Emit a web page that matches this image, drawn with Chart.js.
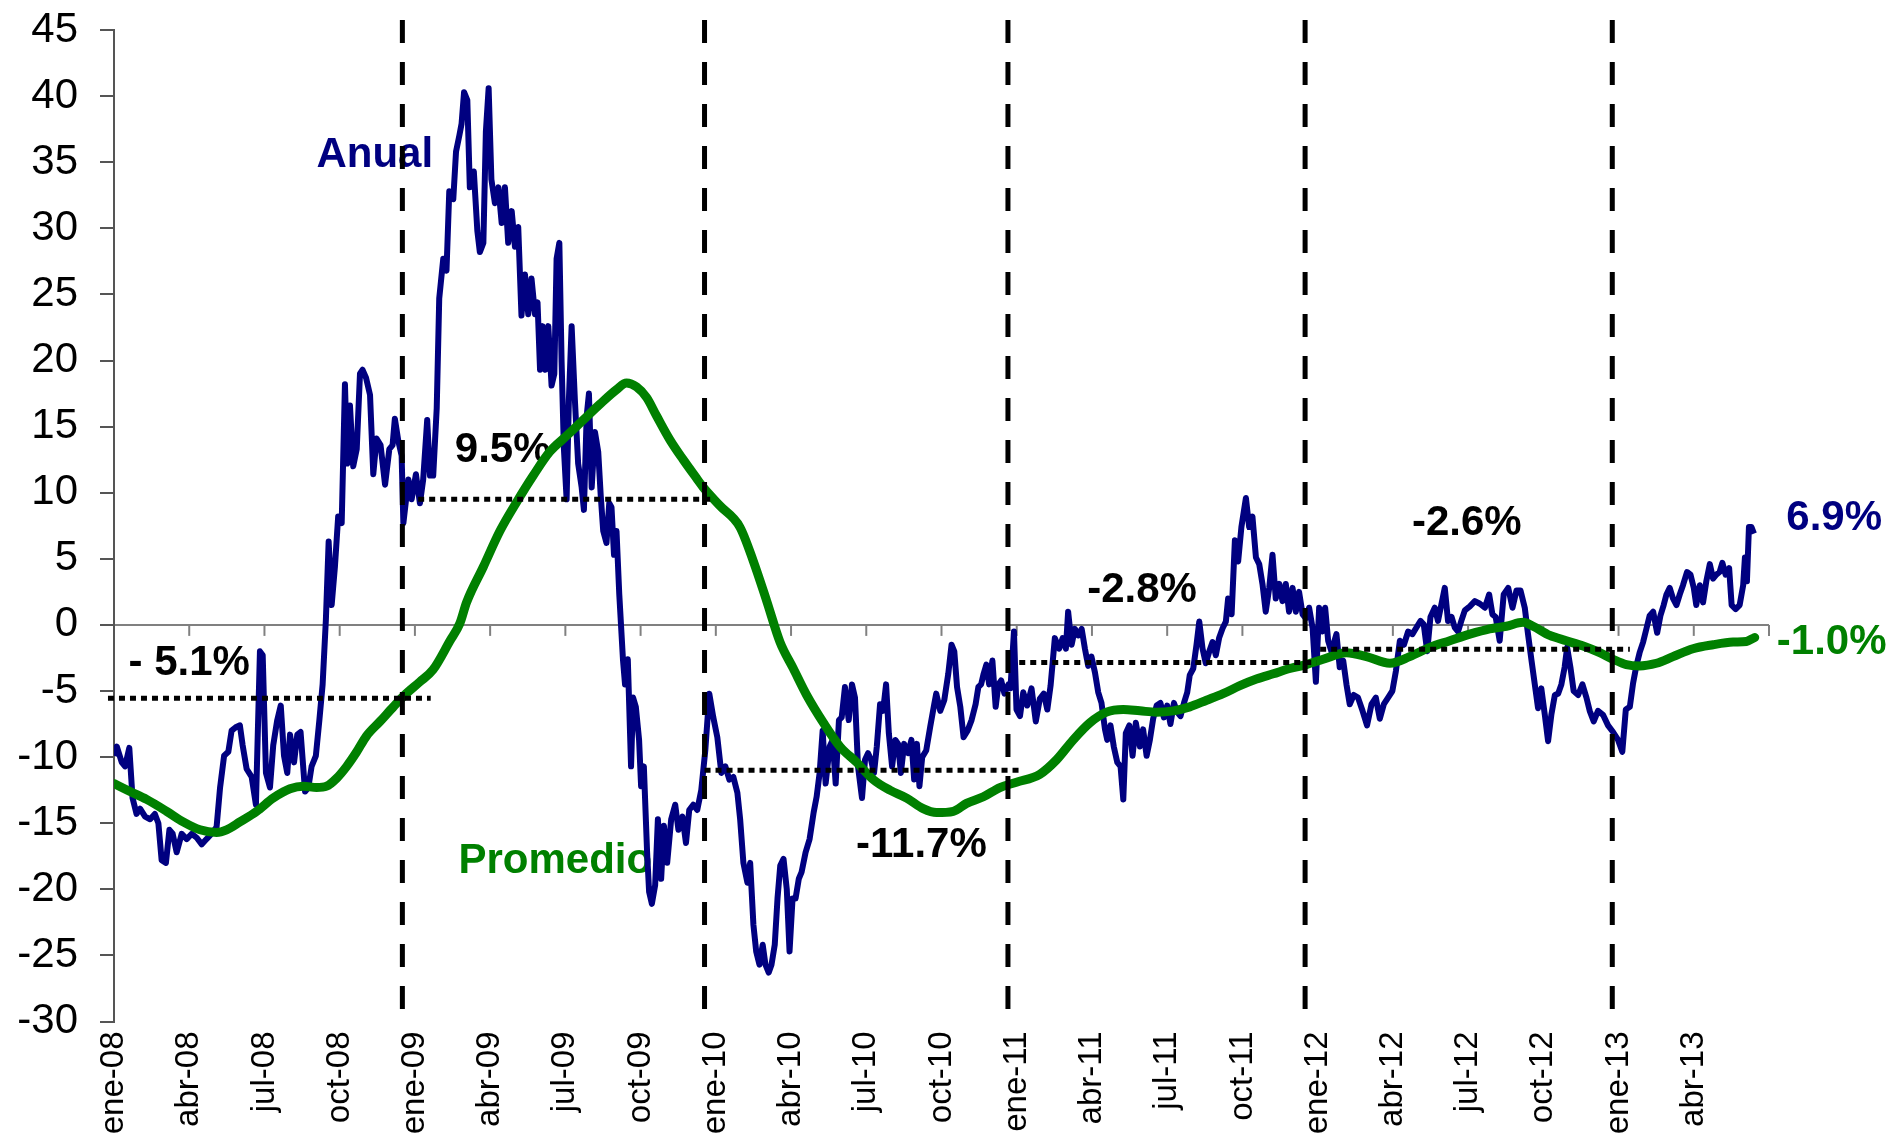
<!DOCTYPE html>
<html>
<head>
<meta charset="utf-8">
<script src="https://cdn.jsdelivr.net/npm/chart.js@4.4.1/dist/chart.umd.min.js"></script>
<style>
  html, body { margin: 0; padding: 0; background: #fff; }
  #wrap { width: 1889px; height: 1142px; }
</style>
</head>
<body>
<div id="wrap"><canvas id="chart" width="1889" height="1142"></canvas></div>
<script>
// x values are months counted from ene-08 (0 = ene-08, 3 = abr-08, ...)
const xTickLabels = ['ene-08', 'abr-08', 'jul-08', 'oct-08', 'ene-09', 'abr-09', 'jul-09', 'oct-09',
  'ene-10', 'abr-10', 'jul-10', 'oct-10', 'ene-11', 'abr-11', 'jul-11', 'oct-11',
  'ene-12', 'abr-12', 'jul-12', 'oct-12', 'ene-13', 'abr-13'];

// "Anual" series
const anualMonths = [
  0, 0.11, 0.31, 0.44, 0.61, 0.74, 0.9, 1.04, 1.24, 1.44, 1.63, 1.77, 1.9, 2.07, 2.21, 2.34, 2.5, 2.7, 2.9, 3.1,
  3.3, 3.5, 3.69, 3.89, 4.09, 4.23, 4.39, 4.56, 4.69, 4.89, 5.02, 5.13, 5.29, 5.49, 5.66, 5.82, 5.93, 6.06, 6.22, 6.35,
  6.51, 6.65, 6.78, 6.91, 7.02, 7.18, 7.31, 7.44, 7.62, 7.75, 7.88, 8.05, 8.19, 8.32, 8.45, 8.56, 8.68, 8.81, 8.94, 9.08,
  9.21, 9.3, 9.41, 9.54, 9.68, 9.81, 9.91, 10.05, 10.21, 10.34, 10.47, 10.63, 10.81, 10.98, 11.11, 11.2, 11.34, 11.47,
  11.54, 11.74, 11.87, 12.04, 12.2, 12.33, 12.49, 12.6, 12.73, 12.87, 12.97, 13.13, 13.26, 13.37, 13.53, 13.64, 13.77, 13.86, 13.96, 14.09,
  14.19, 14.35, 14.49, 14.59, 14.73, 14.83, 14.94, 15.05, 15.19, 15.33, 15.46, 15.59, 15.72, 15.86, 15.99, 16.12, 16.25, 16.39, 16.52, 16.65,
  16.79, 16.89, 16.99, 17.09, 17.2, 17.32, 17.45, 17.56, 17.65, 17.76, 17.85, 17.94, 18.05, 18.14, 18.25, 18.38, 18.51, 18.65, 18.74, 18.85,
  18.94, 19.05, 19.18, 19.31, 19.41, 19.51, 19.64, 19.75, 19.84, 19.94, 20.04, 20.15,
  20.3, 20.38, 20.49, 20.62, 20.7, 20.81, 20.94, 21.02, 21.13, 21.26, 21.34, 21.45, 21.58, 21.69, 21.82, 21.93, 22.06, 22.22, 22.38, 22.51,
  22.67, 22.81, 22.94, 23.1, 23.26, 23.42, 23.58, 23.74, 23.9, 24.06, 24.22, 24.38, 24.54, 24.7, 24.86, 24.97, 25.1, 25.26, 25.37, 25.5,
  25.61, 25.74, 25.87, 25.98, 26.11, 26.22, 26.35, 26.46, 26.57, 26.7, 26.83, 26.94, 27.06, 27.18, 27.31, 27.42, 27.58, 27.74, 27.9, 28.02,
  28.14, 28.26, 28.38, 28.54, 28.66, 28.78, 28.91, 29.02, 29.15, 29.3, 29.43, 29.55, 29.67, 29.83, 29.95, 30.07, 30.19, 30.31, 30.42, 30.55,
  30.67, 30.79, 30.9, 31.03, 31.16, 31.27, 31.38, 31.51, 31.67, 31.8, 31.91, 32.02, 32.12, 32.23, 32.39, 32.55, 32.71, 32.79, 32.95, 33.11,
  33.27, 33.4, 33.51, 33.62, 33.75, 33.88, 34.04, 34.2, 34.36, 34.47, 34.58, 34.68, 34.79, 34.9, 35.03, 35.16, 35.27, 35.38, 35.51, 35.67,
  35.75, 35.89, 35.99, 36.13, 36.26, 36.42, 36.59, 36.76, 36.92, 37.08, 37.22, 37.35, 37.52, 37.69, 37.83, 37.96, 38.05, 38.19, 38.32, 38.45,
  38.59, 38.72, 38.85, 38.98, 39.12, 39.25, 39.38, 39.52, 39.61, 39.74, 39.87, 40.01, 40.14, 40.25, 40.35, 40.49, 40.62, 40.75, 40.91, 41.04,
  41.18, 41.31, 41.44, 41.58, 41.73, 41.87, 42, 42.13, 42.27, 42.4, 42.53, 42.67, 42.8, 42.9, 43.04, 43.17, 43.28, 43.41, 43.54, 43.68,
  43.81, 43.94, 44.07, 44.21, 44.34, 44.43, 44.57, 44.7, 44.83, 44.96, 45.14, 45.27, 45.4, 45.54, 45.67, 45.8, 45.93, 46.07, 46.2, 46.33,
  46.47, 46.6, 46.73, 46.86, 47, 47.13, 47.26, 47.4, 47.53, 47.66, 47.8, 47.93,
  48.06, 48.19, 48.3, 48.42, 48.55, 48.75, 48.88, 49.02, 49.15, 49.28, 49.44, 49.61, 49.79, 49.97, 50.15, 50.32, 50.48, 50.64, 50.81, 50.98,
  51.12, 51.28, 51.44, 51.61, 51.78, 51.94, 52.1, 52.23, 52.37, 52.5, 52.67, 52.8, 52.94, 53.07, 53.2, 53.34, 53.47, 53.6, 53.73, 53.87,
  54.07, 54.27, 54.47, 54.67, 54.84, 54.97, 55.1, 55.26, 55.42, 55.6, 55.77, 55.93, 56.09, 56.26, 56.39, 56.53, 56.66, 56.79, 56.92, 57.06,
  57.19, 57.32, 57.46, 57.59, 57.72, 57.85, 57.95, 58.08, 58.21, 58.39, 58.56, 58.72, 58.85, 59.01, 59.18, 59.38, 59.58, 59.78,
  59.98, 60.15, 60.29, 60.45, 60.58, 60.71, 60.84, 60.98, 61.11, 61.24, 61.38, 61.54, 61.67, 61.8, 61.91, 62.04, 62.17, 62.31, 62.44, 62.57,
  62.73, 62.87, 63, 63.1, 63.24, 63.37, 63.5, 63.64, 63.77, 63.9, 64.03, 64.14, 64.27, 64.41, 64.51, 64.67, 64.83, 64.97, 65.04, 65.12,
  65.2, 65.3, 65.4
];
const anualValues = [
  -9.9, -9.2, -10.4, -10.7, -9.3, -13.1, -14.3, -13.9, -14.5, -14.7, -14.3, -15, -17.8, -18, -15.5, -15.8, -17.2, -15.8, -16.2, -15.8,
  -16.1, -16.6, -16.2, -15.8, -15.3, -12.3, -9.9, -9.6, -8, -7.7, -7.6, -9.1, -10.9, -11.5, -13.6, -2, -2.3, -11.2, -12.3, -9.1,
  -7.2, -6.1, -9.9, -11.2, -8.3, -10.4, -8.3, -8.1, -12.6, -12.3, -10.7, -9.9, -7.2, -4.5, 0.4, 6.3, 1.5, 4.4, 8.2, 7.7,
  18.2, 12.2, 16.6, 12, 13.3, 19, 19.3, 18.7, 17.4, 11.4, 14.1, 13.6, 10.6, 13.3, 13.6, 15.6, 13.9, 12.8,
  7.7, 11, 9.5, 11.4, 9.2, 11, 15.5, 11.3, 11.3, 16.4, 24.7, 27.7, 26.8, 32.8, 32.2, 35.8, 37, 37.9, 40.3, 39.7,
  33.1, 34.3, 29.8, 28.2, 28.9, 37.3, 40.6, 33.7, 31.9, 33.1, 30.4, 33.1, 28.9, 31.3, 28.6, 30.1, 23.4, 26.5, 23.5, 26.2,
  23.5, 24.4, 19.3, 22.6, 19.3, 22.6, 18.1, 19, 27.7, 28.9, 19.9, 13.4, 9.5, 17, 22.6, 17, 12.2, 10.4, 8.7, 15.8,
  17.5, 10.4, 14.6, 13.1, 9.8, 7.1, 6.2, 9.2, 8.9, 5.3, 7.1, 2.3,
  -2.7, -4.5, -2.6, -10.7, -5.5, -6.2, -8.7, -12.2, -10.7, -17.2, -20.2, -21.1, -19.7, -14.7, -19.2, -15.2, -18, -14.7, -13.6, -15.5,
  -14.5, -16.5, -14, -13.6, -14, -12.5, -9.5, -5.2, -7, -8.5, -11.2, -10.7, -11.7, -11.5, -12.7, -14.7, -18, -19.5, -18, -22.7,
  -24.7, -25.7, -24.2, -25.7, -26.3, -25.7, -24.2, -20.7, -18.2, -17.7, -20, -24.7, -20.7, -20.7, -19.2, -18.7, -17.2, -16.2, -14.2, -13,
  -11.2, -8, -12, -9.2, -8.7, -12, -7.2, -7, -4.7, -7.2, -4.5, -5.5, -10.7, -13.1, -10.2, -9.7, -10.2, -11.2, -9.2, -6,
  -6.5, -4.5, -8.2, -10.7, -8.7, -9, -11.2, -9, -9.7, -8.7, -11.7, -9, -12.2, -10, -9.5, -7.7, -6, -5.2, -6.5, -5.7,
  -3.7, -1.5, -2, -4.7, -6.2, -8.5, -8, -7.2, -6, -4.7, -4.5, -3.7, -3, -4.5, -2.7, -6.2, -4.5, -4.2, -5.2, -4.5,
  -4.8, -0.5, -6.4, -6.9, -5.1, -6.1, -4.8, -7.3, -5.6, -5.2, -6.4, -4.6, -1, -1.8, -1, -1.8, 1, -1.5, -0.3, -0.8,
  -0.3, -1.8, -3.1, -2.4, -3.6, -5.1, -5.9, -7.9, -8.7, -7.6, -9.2, -10.4, -10.7, -13.2, -8.2, -7.6, -9.9, -7.4, -9.2, -7.9,
  -9.9, -8.7, -7.1, -6.1, -5.9, -7, -6.1, -7.5, -5.9, -6.6, -6.9, -5.9, -5.1, -3.8, -3.3, -1.5, 0.25, -1.8, -2.9, -2,
  -1.3, -2.3, -1, -0.25, 0.25, 2, 0.8, 6.4, 4.8, 7.4, 9.6, 7.4, 8.2, 5.1, 4.6, 3.1, 1, 2.8, 5.3, 2,
  3.1, 1.8, 3.1, 1, 2.8, 1, 2.5, 0.8, 0.5, 1.3, -0.25, -4.3,
  1.3, -0.5, 1.3, -1.2, -2, -0.7, -3.2, -2.7, -4.5, -6, -5.3, -5.5, -6.5, -7.6, -6, -5.5, -7.1, -6, -5.5, -5,
  -3.5, -1.2, -1.5, -0.5, -0.7, -0.2, 0.3, 0.05, -2, 0.6, 1.3, 0.3, 1.6, 2.8, 0.3, 0.6, -0.2, -0.5, 0.3, 1.1,
  1.4, 1.8, 1.6, 1.3, 2.3, 0.8, 0.6, -1.2, 2.3, 2.8, 1.3, 2.6, 2.6, 1.3, -0.7, -2.7, -4.5, -6.3, -4.8, -6.8,
  -8.8, -6.8, -5.3, -5.2, -4.5, -3.2, -1.7, -3.2, -5, -5.3, -4.5, -5.5, -6.5, -7.3, -6.5, -6.8, -7.6, -8.1,
  -8.7, -9.6, -6.4, -6.2, -4.4, -3.1, -2.1, -1.3, -0.3, 0.7, 1, -0.6, 0.7, 1.5, 2.3, 2.8, 2, 1.5, 2.3, 3,
  4, 3.8, 2.8, 1.5, 3, 1.7, 3.3, 4.6, 3.5, 3.8, 4, 4.7, 3.8, 4.3, 1.5, 1.2, 1.5, 3, 5.1, 3.3,
  7.4, 7.4, 6.9
];

// "Promedio" series
const promedioMonths = [
  0, 0.64, 1.3, 2.1, 2.76, 3.43, 4.09, 4.49, 5.02, 5.69, 6.35, 7.02, 7.55, 8.08, 8.48, 8.88, 9.28, 9.68, 10.07, 10.61,
  11.14, 11.54, 12.2, 12.72, 13.4, 13.79, 14.06, 14.73, 15.39, 16.06, 16.72, 17.38, 18.05, 18.71, 19.38, 20.04, 20.44, 20.84, 21.24, 21.64,
  22.17, 22.7, 23.23, 23.5, 24.17, 24.96, 25.5, 26.03, 26.56, 27.09, 27.62, 28.29, 28.95, 29.62, 30.28, 30.94, 31.61, 32.27, 32.8, 33.47,
  34, 34.67, 35.33, 35.99, 36.92, 37.59, 38.25, 38.92, 39.58, 40.25, 40.91, 41.58, 42.24, 42.9, 43.57, 44.23, 44.9, 45.56, 46.23, 46.89,
  47.55, 48.22, 49.15, 49.95, 50.88, 51.67, 52.47, 53.27, 54.07, 54.86, 55.53, 56.19, 56.59, 57.26, 57.92, 58.59, 59.25, 59.78, 60.31, 60.84,
  61.51, 62.17, 62.97, 63.77, 64.57, 65.1, 65.43
];
const promedioValues = [
  -12, -12.6, -13.2, -14.1, -14.9, -15.5, -15.7, -15.5, -14.9, -14.1, -13.1, -12.4, -12.2, -12.3, -12.2, -11.6, -10.7, -9.6, -8.4, -7.3,
  -6.2, -5.4, -4.3, -3.4, -1.2, 0.1, 1.7, 4.4, 7.1, 9.3, 11.3, 13.1, 14.3, 15.5, 16.7, 17.8, 18.3, 18, 17.2, 15.8,
  14, 12.5, 11.1, 10.4, 9, 7.4, 4.8, 1.8, -1.3, -3.3, -5.3, -7.4, -9.2, -10.4, -11.7, -12.5, -13.1, -13.9, -14.2, -14.1,
  -13.5, -13, -12.3, -11.9, -11.3, -10.2, -8.7, -7.4, -6.6, -6.4, -6.5, -6.6, -6.5, -6.2, -5.7, -5.2, -4.6, -4.1, -3.7, -3.3,
  -3, -2.6, -2.1, -2.4, -2.9, -2.4, -1.7, -1.2, -0.7, -0.3, -0.1, 0.2, -0.1, -0.8, -1.2, -1.6, -2.1, -2.6, -3, -3.1,
  -2.9, -2.4, -1.8, -1.5, -1.3, -1.25, -0.95
];

// year breaks (dashed verticals) and yearly average levels (dotted horizontals)
const yearBreaks = [11.5, 23.55, 35.65, 47.5, 59.75];
const avgFrom = [-0.24, 12.13, 23.55, 36.1, 48.1];
const avgTo = [12.63, 23.95, 36.1, 47.95, 60.45];
const avgLevels = [-5.55, 9.5, -11.0, -2.85, -1.85];

const NAVY = '#000080';
const GREEN = '#008000';
const FONT = '"Liberation Sans", Arial, sans-serif';

// text notes placed in data units
const notes = [
  { text: 'Anual', x: 10.4, y: 35.5, color: NAVY },
  { text: 'Promedio', x: 17.6, y: -17.9, color: GREEN },
  { text: '- 5.1%', x: 3.0, y: -2.95, color: '#000' },
  { text: '9.5%', x: 15.5, y: 13.2, color: '#000' },
  { text: '-11.7%', x: 32.2, y: -16.7, color: '#000' },
  { text: '-2.8%', x: 41.0, y: 2.6, color: '#000' },
  { text: '-2.6%', x: 53.95, y: 7.7, color: '#000' },
  { text: '6.9%', x: 68.6, y: 8.06, color: NAVY },
  { text: '-1.0%', x: 68.5, y: -1.35, color: GREEN }
];

const xMax = 66;

const overlay = {
  id: 'overlay',
  beforeDatasetsDraw(chart) {
    const { ctx, scales: { x, y } } = chart;
    ctx.save();
    // small tick marks hanging from the zero line
    const y0 = y.getPixelForValue(0);
    ctx.strokeStyle = '#808080';
    ctx.lineWidth = 2;
    for (let m = 3; m <= xMax; m += 3) {
      const px = x.getPixelForValue(m);
      ctx.beginPath();
      ctx.moveTo(px, y0);
      ctx.lineTo(px, y0 + 11);
      ctx.stroke();
    }
    ctx.font = 'bold 42px ' + FONT;
    ctx.textAlign = 'center';
    ctx.textBaseline = 'middle';
    notes.forEach(n => {
      ctx.fillStyle = n.color;
      ctx.fillText(n.text, x.getPixelForValue(n.x), y.getPixelForValue(n.y));
    });
    ctx.restore();
  },
  afterDatasetsDraw(chart) {
    const { ctx, chartArea, scales: { x, y } } = chart;
    ctx.save();
    ctx.strokeStyle = '#000';
    // dotted averages
    ctx.lineWidth = 5;
    ctx.setLineDash([6, 5]);
    avgLevels.forEach((v, i) => {
      const py = y.getPixelForValue(v);
      ctx.beginPath();
      ctx.moveTo(x.getPixelForValue(avgFrom[i]), py);
      ctx.lineTo(x.getPixelForValue(avgTo[i]), py);
      ctx.stroke();
    });
    // dashed year breaks
    ctx.lineWidth = 5;
    ctx.setLineDash([23, 19]);
    yearBreaks.forEach(m => {
      const px = x.getPixelForValue(m);
      ctx.beginPath();
      ctx.moveTo(px, chartArea.top - 10);
      ctx.lineTo(px, chartArea.bottom + 2);
      ctx.stroke();
    });
    ctx.restore();
  }
};

new Chart(document.getElementById('chart'), {
  type: 'line',
  data: {
    datasets: [
      {
        label: 'Anual',
        data: anualMonths.map((m, i) => ({ x: m, y: anualValues[i] })),
        borderColor: NAVY,
        borderWidth: 6,
        pointRadius: 0,
        tension: 0,
        borderJoinStyle: 'round',
        order: 2
      },
      {
        label: 'Promedio',
        data: promedioMonths.map((m, i) => ({ x: m, y: promedioValues[i] })),
        borderColor: GREEN,
        borderWidth: 9,
        pointRadius: 0,
        cubicInterpolationMode: 'monotone',
        borderCapStyle: 'round',
        borderJoinStyle: 'round',
        order: 1
      }
    ]
  },
  options: {
    responsive: false,
    animation: false,
    devicePixelRatio: 1,
    layout: { padding: { top: 30, right: 120, bottom: 0, left: 0 } },
    plugins: { legend: { display: false }, tooltip: { enabled: false } },
    scales: {
      x: {
        type: 'linear',
        min: 0,
        max: xMax,
        afterBuildTicks: s => { s.ticks = xTickLabels.map((_, i) => ({ value: i * 3 })); },
        afterFit: s => { s.height = 120.5; },
        grid: { display: false, drawTicks: false },
        border: { display: false },
        ticks: {
          autoSkip: false,
          maxRotation: 90,
          minRotation: 90,
          padding: 10,
          color: '#000',
          font: { family: FONT, size: 33 },
          callback: v => xTickLabels[Math.round(v / 3)]
        }
      },
      y: {
        min: -30,
        max: 45,
        afterFit: s => { s.width = 114; s.paddingTop = 0; s.paddingBottom = 0; },
        grid: {
          color: c => (c.tick && c.tick.value === 0 ? '#808080' : 'rgba(0,0,0,0)'),
          lineWidth: 2,
          tickLength: 14,
          tickColor: '#555'
        },
        border: { color: '#555', width: 2 },
        ticks: {
          stepSize: 5,
          padding: 22,
          color: '#000',
          font: { family: FONT, size: 42 },
          callback: v => String(v)
        }
      }
    }
  },
  plugins: [overlay]
});
</script>
</body>
</html>
